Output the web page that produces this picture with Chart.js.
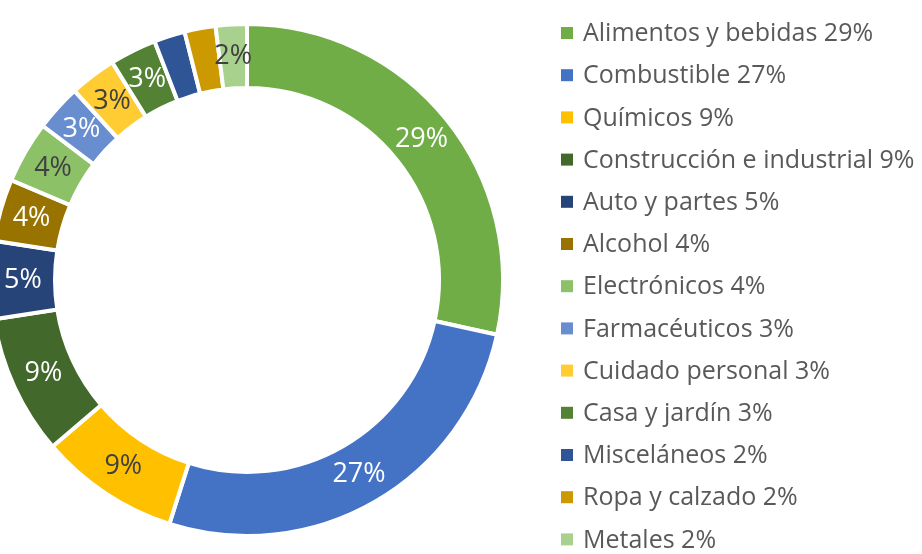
<!DOCTYPE html>
<html>
<head>
<meta charset="utf-8">
<script src="https://cdn.jsdelivr.net/npm/chart.js@4"></script>
<style>
  html, body { margin:0; padding:0; background:#fff; overflow:hidden; }
  #wrap { position:absolute; left:-20px; top:0; width:942px; height:554px; }
</style>
</head>
<body>
<div id="wrap"><canvas id="mixChart"></canvas></div>
<script>
const CATEGORIES = ['Alimentos y bebidas','Combustible','Químicos','Construcción e industrial','Auto y partes','Alcohol','Electrónicos','Farmacéuticos','Cuidado personal','Casa y jardín','Misceláneos','Ropa y calzado','Metales'];
const SHARES = [29,27,9,9,5,4,4,3,3,3,2,2,2];

const COLORS = ['#70AD47','#4472C4','#FFC000','#43682B','#264478','#997300','#8CC168','#698ED0','#FFCD33','#548235','#2F5597','#CC9900','#A9D18E'];
// slice label colour, null = no label on that slice
const LABEL_COLORS = ['#fff','#fff','#404040','#fff','#fff','#fff','#404040','#fff','#404040','#fff',null,null,'#404040'];

const FONT = "'Open Sans', sans-serif";

const sliceLabels = {
  id:'sliceLabels',
  afterDatasetsDraw(chart) {
    const ctx = chart.ctx;
    const arcs = chart.getDatasetMeta(0).data;
    ctx.save();
    ctx.font = '27px ' + FONT;
    ctx.textAlign = 'center';
    ctx.textBaseline = 'middle';
    arcs.forEach((arc, i) => {
      if (!LABEL_COLORS[i]) return;
      const p = arc.getCenterPoint();
      ctx.fillStyle = LABEL_COLORS[i];
      ctx.fillText(SHARES[i] + '%', p.x, p.y);
    });
    ctx.restore();
  }
};

const sideLegend = {
  id:'sideLegend',
  afterDraw(chart) {
    const ctx = chart.ctx;
    const x0 = 581, y0 = 33, step = 42.2;
    ctx.save();
    ctx.font = '25px ' + FONT;
    ctx.textAlign = 'left';
    ctx.textBaseline = 'middle';
    CATEGORIES.forEach((c, i) => {
      const y = y0 + i * step;
      ctx.fillStyle = COLORS[i];
      ctx.fillRect(x0, y - 6, 12, 12);
      ctx.fillStyle = '#595959';
      ctx.fillText(c + ' ' + SHARES[i] + '%', x0 + 22, y + 1);
    });
    ctx.restore();
  }
};

new Chart(document.getElementById('mixChart'), {
  type:'doughnut',
  data:{ labels:CATEGORIES, datasets:[{ data:SHARES, backgroundColor:COLORS, borderColor:'#fff', borderWidth:4 }] },
  options:{ responsive:true, maintainAspectRatio:false, animation:false, cutout:'75%',
    layout:{ padding:{ left:9, right:417, top:22, bottom:16 } },
    plugins:{ legend:{display:false}, tooltip:{enabled:false} } },
  plugins:[sliceLabels, sideLegend]
});
</script>
</body>
</html>
